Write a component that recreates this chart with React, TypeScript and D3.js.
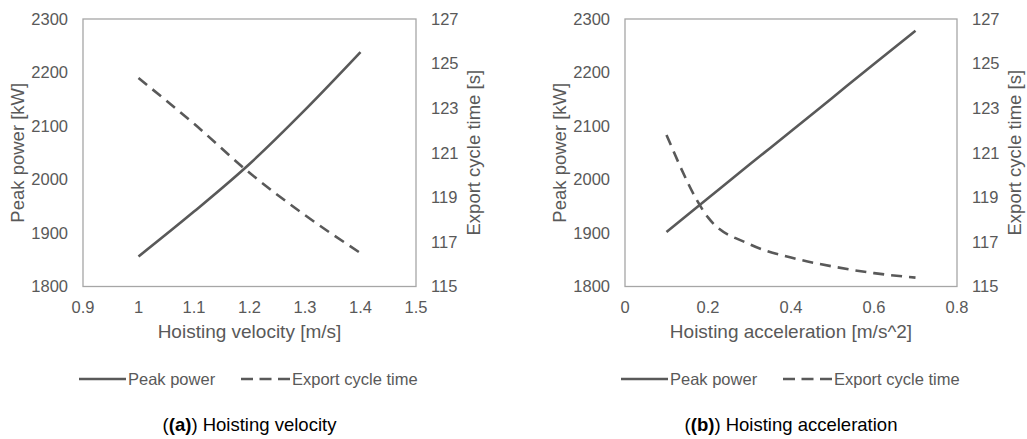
import React from "react";
import * as d3 from "d3";

const velocity = [1.0, 1.1, 1.2, 1.3, 1.4];
const velPeakPower = [1856, 1940, 2029, 2130, 2238];
const velCycleTime = [124.35, 122.3, 120.1, 118.2, 116.5];

const acceleration = [0.1, 0.2, 0.3, 0.4, 0.5, 0.6, 0.7];
const accPeakPower = [1902, 1965, 2028, 2090, 2153, 2216, 2278];
const accCycleTime = [121.8, 118.1, 116.9, 116.3, 115.9, 115.6, 115.4];

const leftTicks = [1800, 1900, 2000, 2100, 2200, 2300];
const rightTicks = [115, 117, 119, 121, 123, 125, 127];
const velTicks = [0.9, 1, 1.1, 1.2, 1.3, 1.4, 1.5];
const accTicks = [0, 0.2, 0.4, 0.6, 0.8];

const LINE = "#595959";
const TEXT = "#595959";
const FRAME = "#a6a6a6";
const FONT = "'Liberation Sans', Arial, sans-serif";

type PanelProps = {
  x0: number;
  x1: number;
  xDomain: [number, number];
  xTicks: number[];
  xs: number[];
  power: number[];
  cycle: number[];
  xTitle: string;
  letter: string;
  caption: string;
  legendX: number;
};

function Panel(p: PanelProps) {
  const top = 19;
  const bottom = 286.5;
  const x = d3.scaleLinear().domain(p.xDomain).range([p.x0, p.x1]);
  const yL = d3.scaleLinear().domain([1800, 2300]).range([bottom, top]);
  const yR = d3.scaleLinear().domain([115, 127]).range([bottom, top]);
  const powerLine = d3
    .line<number>()
    .curve(d3.curveMonotoneX)
    .x((_, i) => x(p.xs[i]))
    .y((d) => yL(d))(p.power);
  const cycleLine = d3
    .line<number>()
    .curve(d3.curveMonotoneX)
    .x((_, i) => x(p.xs[i]))
    .y((d) => yR(d))(p.cycle);
  const cx = (p.x0 + p.x1) / 2;
  const cy = (top + bottom) / 2;
  const fmt = (v: number) => String(v);
  return (
    <g>
      <rect
        x={p.x0}
        y={top}
        width={p.x1 - p.x0}
        height={bottom - top}
        fill="none"
        stroke={FRAME}
        strokeWidth={1.3}
      />
      {leftTicks.map((t) => (
        <text
          key={"l" + t}
          x={p.x0 - 15}
          y={yL(t)}
          dy="0.35em"
          textAnchor="end"
          fontSize={16.5}
          fill={TEXT}
        >
          {t}
        </text>
      ))}
      {rightTicks.map((t) => (
        <text
          key={"r" + t}
          x={p.x1 + 15}
          y={yR(t)}
          dy="0.35em"
          textAnchor="start"
          fontSize={16.5}
          fill={TEXT}
        >
          {t}
        </text>
      ))}
      {p.xTicks.map((t) => (
        <text
          key={"x" + t}
          x={x(t)}
          y={307}
          dy="0.35em"
          textAnchor="middle"
          fontSize={16.5}
          fill={TEXT}
        >
          {fmt(t)}
        </text>
      ))}
      <text
        x={cx}
        y={331}
        dy="0.35em"
        textAnchor="middle"
        fontSize={19}
        fill={TEXT}
      >
        {p.xTitle}
      </text>
      <text
        transform={`translate(${p.x0 - 65},${cy}) rotate(-90)`}
        dy="0.35em"
        textAnchor="middle"
        fontSize={18.5}
        fill={TEXT}
      >
        Peak power [kW]
      </text>
      <text
        transform={`translate(${p.x1 + 58},${cy}) rotate(-90)`}
        dy="0.35em"
        textAnchor="middle"
        fontSize={18.5}
        fill={TEXT}
      >
        Export cycle time [s]
      </text>
      <path d={powerLine || ""} fill="none" stroke={LINE} strokeWidth={2.6} />
      <path
        d={cycleLine || ""}
        fill="none"
        stroke={LINE}
        strokeWidth={2.6}
        strokeDasharray="11,7"
      />
      <g transform={`translate(${p.legendX},379)`}>
        <line x1={0} x2={47} y1={0} y2={0} stroke={LINE} strokeWidth={2.6} />
        <text x={49} y={0} dy="0.35em" fontSize={16.5} fill={TEXT}>
          Peak power
        </text>
        <line
          x1={162}
          x2={211}
          y1={0}
          y2={0}
          stroke={LINE}
          strokeWidth={2.6}
          strokeDasharray="12,6.5"
        />
        <text x={213} y={0} dy="0.35em" fontSize={16.5} fill={TEXT}>
          Export cycle time
        </text>
      </g>
      <text
        x={cx}
        y={425}
        dy="0.35em"
        textAnchor="middle"
        fontSize={18.5}
        fill="#000"
      >
        (<tspan fontWeight="bold">({p.letter})</tspan>) {p.caption}
      </text>
    </g>
  );
}

export default function App() {
  return (
    <svg
      width={1027}
      height={439}
      style={{ position: "absolute", left: 0, top: 0, background: "#fff" }}
      fontFamily={FONT}
    >
      <rect x={0} y={0} width={1027} height={439} fill="#fff" />
      <Panel
        x0={83}
        x1={416}
        xDomain={[0.9, 1.5]}
        xTicks={velTicks}
        xs={velocity}
        power={velPeakPower}
        cycle={velCycleTime}
        xTitle="Hoisting velocity [m/s]"
        letter="a"
        caption="Hoisting velocity"
        legendX={79}
      />
      <Panel
        x0={625}
        x1={957}
        xDomain={[0, 0.8]}
        xTicks={accTicks}
        xs={acceleration}
        power={accPeakPower}
        cycle={accCycleTime}
        xTitle="Hoisting acceleration [m/s^2]"
        letter="b"
        caption="Hoisting acceleration"
        legendX={621}
      />
    </svg>
  );
}
